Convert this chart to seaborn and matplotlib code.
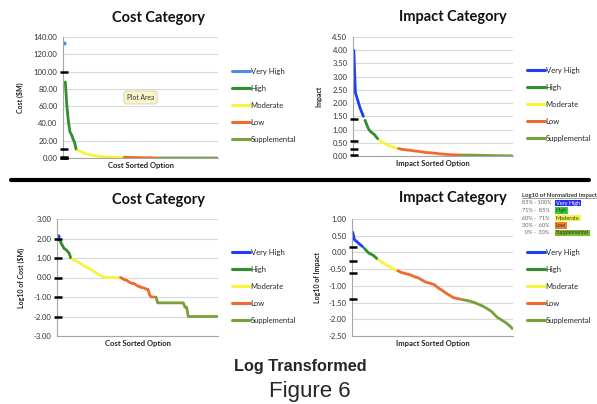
import numpy as np
import pandas as pd
import matplotlib
matplotlib.use("Agg")
import matplotlib.pyplot as plt
from matplotlib.lines import Line2D
import seaborn as sns

# ---------------------------------------------------------------- data
categories = ["Very High", "High", "Moderate", "Low", "Supplemental"]

# Cost ($M) of each option, sorted high to low, grouped by category
cost_very_high = [133.0]
cost_high = [88.0, 60.0, 42.0, 30.0, 27.0, 22.0, 18.0, 10.0]
cost_moderate = [8.9, 8.0, 7.2, 6.5, 5.8, 5.2, 4.6, 4.1, 3.7, 3.3,
                 3.0, 2.7, 2.4, 2.1, 1.9, 1.7, 1.5, 1.35, 1.2, 1.1,
                 1.0, 1.0, 1.0, 1.0, 1.0, 1.0, 1.0, 1.0, 1.0, 1.0]
cost_low = [1.0, 0.9, 0.8, 0.75, 0.7, 0.6, 0.55, 0.5, 0.5, 0.45, 0.4,
            0.35, 0.35, 0.3, 0.3, 0.28, 0.25, 0.25, 0.13, 0.1, 0.1, 0.1]
cost_supplemental = [0.1] + [0.05] * 17 + [0.03, 0.03] + [0.01] * 19

# Impact of each option, sorted high to low, grouped by category
impact_very_high = [4.0, 2.4, 2.2, 2.0, 1.8, 1.65, 1.5]
impact_high = [1.35, 1.2, 1.05, 0.95, 0.9, 0.85, 0.8, 0.72, 0.65]
impact_moderate = [0.6, 0.55, 0.52, 0.48, 0.45, 0.42, 0.4, 0.37, 0.35,
                   0.33, 0.31, 0.29]
impact_low = [0.282, 0.269, 0.251, 0.245, 0.240, 0.229, 0.224, 0.219,
              0.209, 0.200, 0.191, 0.182, 0.178, 0.170, 0.158, 0.151,
              0.138, 0.132, 0.126, 0.123, 0.120, 0.115, 0.112, 0.105,
              0.0955, 0.0871, 0.0813, 0.0759, 0.0708, 0.0646, 0.0603,
              0.0562, 0.0525, 0.0490, 0.0457, 0.0437, 0.0427, 0.0417,
              0.0407, 0.0398]
impact_supplemental = [0.0389, 0.0380, 0.0372, 0.0363, 0.0355, 0.0347,
                       0.0331, 0.0324, 0.0309, 0.0295, 0.0282, 0.0269,
                       0.0257, 0.0245, 0.0229, 0.0214, 0.0200, 0.0186,
                       0.0174, 0.0155, 0.0138, 0.0123, 0.0112, 0.0105,
                       0.00977, 0.00912, 0.00851, 0.00794, 0.00724,
                       0.00661, 0.00603, 0.00525]

# Category break points marked on the value axes
cost_thresholds = [100, 10, 1, 0.1, 0.01]
impact_thresholds = [1.41, 0.57, 0.25, 0.04]

# Key for the normalized impact bands
band_ranges = ["85% - 100%", "71% -  85%", "60% -  71%", "30% -  60%", "  0% -  30%"]

# ---------------------------------------------------------------- styling
sns.set_theme(style="white")
plt.rcParams["font.family"] = ["Lato", "DejaVu Sans"]

base_colors = {"High": "#2f8f2a", "Moderate": "#f7f43a",
               "Low": "#f06a2d", "Supplemental": "#77a03a"}
pal_top_cost = {"Very High": "#4d8af0", **base_colors}
pal_main = {"Very High": "#1c3ff5", **base_colors}
band_colors = {"Very High": "#2b2bf5", "High": "#33cc33", "Moderate": "#f5f542",
               "Low": "#f08030", "Supplemental": "#7ab82e"}

W, H = 597, 404
fig = plt.figure(figsize=(W / 100, H / 100), dpi=100)


def frame(x0, y0, x1, y1):
    """Axes rectangle from pixel box (top-left origin)."""
    return [x0 / W, 1 - y1 / H, (x1 - x0) / W, (y1 - y0) / H]


def build(series, col):
    rows, idx = [], 0
    for cat, vals in zip(categories, series):
        for v in vals:
            rows.append((idx, cat, v))
            idx += 1
    df = pd.DataFrame(rows, columns=["Option", "Category", col])
    df["Log"] = np.log10(df[col])
    return df


cost_df = build([cost_very_high, cost_high, cost_moderate, cost_low,
                 cost_supplemental], "Cost")
impact_df = build([impact_very_high, impact_high, impact_moderate, impact_low,
                   impact_supplemental], "Impact")
n_opt = len(cost_df)


def panel(rect, df, ycol, palette, ylim, step, ylabel, xlabel, marks,
          ylab_x, legend_xy, title_xy, title):
    ax = fig.add_axes(rect)
    sns.lineplot(data=df, x="Option", y=ycol, hue="Category",
                 hue_order=categories, palette=palette, linewidth=2.0,
                 estimator=None, sort=False, legend=False, ax=ax)
    counts = df["Category"].value_counts()
    singles = df[df["Category"].map(counts) == 1]
    if len(singles):
        sns.scatterplot(data=singles, x="Option", y=ycol, hue="Category",
                        palette=palette, s=9, linewidth=0, legend=False, ax=ax)
    ax.set_xlim(-0.5, n_opt - 0.5)
    ax.set_ylim(*ylim)
    ticks = np.arange(ylim[0], ylim[1] + step / 2, step)
    ax.set_yticks(ticks)
    ax.set_yticklabels([f"{t:.2f}" for t in ticks])
    ax.set_xticks([])
    ax.tick_params(axis="y", length=0, pad=4, labelsize=5.5, labelcolor="#333333")
    ax.grid(axis="y", color="#d9d9d9", lw=0.8)
    ax.set_axisbelow(True)
    for s in ("top", "right"):
        ax.spines[s].set_visible(False)
    for s in ("left", "bottom"):
        ax.spines[s].set_color("#a6a6a6")
        ax.spines[s].set_linewidth(0.8)
    ax.set_ylabel(ylabel, fontsize=5, fontweight="bold", color="#222222")
    ax.set_xlabel(xlabel, fontsize=5.5, fontweight="bold", color="#222222")
    ax.yaxis.set_label_coords(ylab_x, 0.5)
    ax.xaxis.set_label_coords(0.5, -0.035)
    ax.hlines(marks, -0.02, 0.03, transform=ax.get_yaxis_transform(),
              colors="black", lw=1.8, clip_on=False, zorder=5)
    handles = [Line2D([], [], color=palette[c], lw=2.2) for c in categories]
    ax.legend(handles, categories, loc="upper left",
              bbox_to_anchor=(legend_xy[0] / W, 1 - legend_xy[1] / H),
              bbox_transform=fig.transFigure, frameon=False, fontsize=5.5,
              handlelength=2.4, handletextpad=0.05, labelspacing=1.3,
              borderpad=0, borderaxespad=0)
    fig.text(title_xy[0] / W, 1 - title_xy[1] / H, title, ha="center",
             va="center", fontsize=10.5, fontweight="bold", color="#111111")
    return ax


ax1 = panel(frame(63, 37, 218, 158), cost_df, "Cost", pal_top_cost, (0, 140), 20,
            "Cost ($M)", "Cost Sorted Option", cost_thresholds, -0.25,
            (232, 68), (158, 18), "Cost Category")
ax2 = panel(frame(353, 37, 513, 156), impact_df, "Impact", pal_main, (0, 4.5), 0.5,
            "Impact", "Impact Sorted Option", impact_thresholds, -0.19,
            (527, 67), (453, 17), "Impact Category")
ax3 = panel(frame(57, 219, 218, 336), cost_df, "Log", pal_main, (-3, 3), 1,
            "Log10 of Cost ($M)", "Cost Sorted Option", np.log10(cost_thresholds),
            -0.2, (232, 249), (158, 200), "Cost Category")
ax4 = panel(frame(352, 219, 513, 336), impact_df, "Log", pal_main, (-2.5, 1), 0.5,
            "Log10 of Impact", "Impact Sorted Option", np.log10(impact_thresholds),
            -0.19, (527, 249), (453, 198), "Impact Category")

# Hover tooltip left on the cost chart
ax1.text(0.5, 0.5, "Plot Area", transform=ax1.transAxes, ha="center",
         va="center", fontsize=4.8, color="#333333",
         bbox=dict(boxstyle="round,pad=0.45", fc="#fbf4c9", ec="#c9c3a0", lw=0.5))

# Key of normalized impact bands
fig.text(522 / W, 1 - 195 / H, "Log10 of Normalized Impact", fontsize=4.2,
         fontweight="bold", color="#333333", va="center", ha="left")
fig.add_artist(Line2D([522 / W, 597 / W], [1 - 198 / H, 1 - 198 / H],
                      color="#555555", lw=0.4))
for i, (rng, cat) in enumerate(zip(band_ranges, categories)):
    y = 1 - (203 + 7.5 * i) / H
    fig.text(522 / W, y, rng, fontsize=4.0, color="#666666", va="center", ha="left")
    fig.text(556 / W, y, cat, fontsize=4.0, va="center", ha="left",
             color="white" if cat == "Very High" else "#333333",
             bbox=dict(boxstyle="square,pad=0.15", fc=band_colors[cat], ec="none"))

# Divider between the raw and log-transformed rows
fig.add_artist(Line2D([11 / W, 589 / W], [1 - 180 / H, 1 - 180 / H],
                      color="black", lw=3))

fig.text(300 / W, 1 - 367 / H, "Log Transformed", ha="center", va="center",
         fontsize=11.7, fontweight="bold", family="Liberation Sans")
fig.text(310 / W, 1 - 392 / H, "Figure 6", ha="center", va="center",
         fontsize=16, family="Liberation Sans")

fig.savefig("out.png", dpi=100)
